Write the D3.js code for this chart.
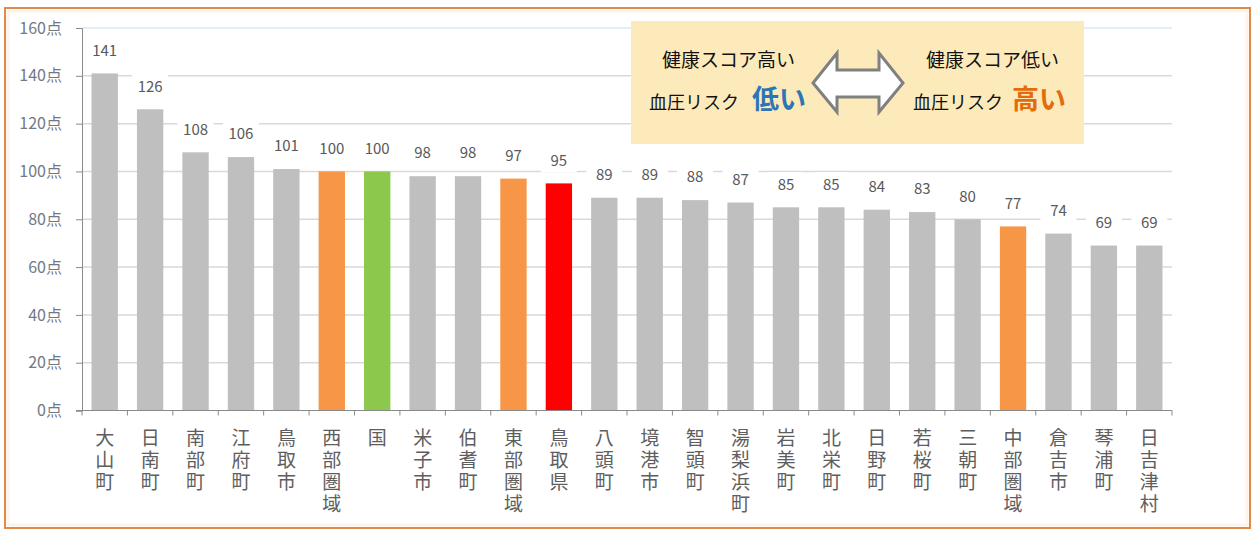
<!DOCTYPE html>
<html lang="ja">
<head>
<meta charset="utf-8">
<script src="https://cdn.jsdelivr.net/npm/d3@7"></script>
<style>
  html, body { margin: 0; padding: 0; background: #fff; }
  svg { display: block; }
  text { font-family: "Noto Sans CJK JP", "Noto Sans", sans-serif; }
</style>
</head>
<body>
<svg id="chart" width="1259" height="534"></svg>
<script>
// 血圧リスクの健康スコア（市町村・圏域別）
const categories = ["大山町","日南町","南部町","江府町","鳥取市","西部圏域","国","米子市","伯耆町","東部圏域","鳥取県","八頭町","境港市","智頭町","湯梨浜町","岩美町","北栄町","日野町","若桜町","三朝町","中部圏域","倉吉市","琴浦町","日吉津村"];
const scores = [141,126,108,106,101,100,100,98,98,97,95,89,89,88,87,85,85,84,83,80,77,74,69,69];
const yTicks = [0,20,40,60,80,100,120,140,160];
// 区分: 町村・市 / 圏域 / 国 / 県
const kinds = ["m","m","m","m","m","area","nation","m","m","area","pref","m","m","m","m","m","m","m","m","m","area","m","m","m"];
const kindColor = { m: "#bfbfbf", area: "#f79646", nation: "#8cc84b", pref: "#ff0000" };

const svg = d3.select("#chart");

// 外枠
svg.append("rect")
  .attr("x", 5).attr("y", 8).attr("width", 1245).attr("height", 520)
  .attr("fill", "#fff").attr("stroke", "#e08a4a").attr("stroke-width", 2);
svg.append("rect")
  .attr("x", 8).attr("y", 11).attr("width", 1239).attr("height", 514)
  .attr("fill", "none").attr("stroke", "#fdf3e8").attr("stroke-width", 3);

const x = d3.scaleBand().domain(categories).range([82, 1172])
  .paddingInner(0.42).paddingOuter(0.21);
const y = d3.scaleLinear().domain([0, 160]).range([410.5, 28]);

// 目盛線
svg.append("g").selectAll("line").data(yTicks.filter(d => d > 0)).join("line")
  .attr("x1", 82).attr("x2", 1172)
  .attr("y1", d => y(d)).attr("y2", d => y(d))
  .attr("stroke", d => d === 160 ? "#dde8f0" : "#d9d9d9").attr("stroke-width", 1.5);

// 棒
svg.append("g").selectAll("rect").data(categories).join("rect")
  .attr("x", d => x(d))
  .attr("y", (d, i) => y(scores[i]))
  .attr("width", x.bandwidth())
  .attr("height", (d, i) => y(0) - y(scores[i]))
  .attr("fill", (d, i) => kindColor[kinds[i]]);

// 値ラベル（背景付き）
const lab = svg.append("g").selectAll("g").data(categories).join("g")
  .attr("transform", (d, i) => `translate(${x(d) + x.bandwidth() / 2},${y(scores[i]) - 23})`);
lab.append("rect")
  .attr("x", -18).attr("y", -12).attr("width", 36).attr("height", 24)
  .attr("fill", "#fff");
lab.append("text")
  .attr("text-anchor", "middle").attr("dy", "0.35em")
  .attr("font-size", 15).attr("fill", "#595959")
  .text((d, i) => scores[i]);

// Y軸
const yAxis = d3.axisLeft(y).tickValues(yTicks).tickSize(6).tickPadding(14)
  .tickFormat(d => d + "点");
const gy = svg.append("g").attr("transform", "translate(82,0)").call(yAxis);
gy.select(".domain").attr("stroke", "#8a8a8a");
gy.selectAll(".tick line").attr("stroke", "#8a8a8a");
gy.selectAll(".tick text").attr("font-size", 16).attr("fill", "#707a86")
  .attr("font-family", "\"Noto Sans CJK JP\", sans-serif");

// X軸（区切り目盛）
const gx = svg.append("g").attr("transform", `translate(0,${y(0)})`);
gx.append("line").attr("x1", 76).attr("x2", 1172).attr("y1", 0).attr("y2", 0)
  .attr("stroke", "#8a8a8a");
const bounds = categories.map(c => x(c) - x.step() * x.paddingInner() / 2).concat([1172]);
gx.selectAll("line.tk").data(bounds).join("line").attr("class", "tk")
  .attr("x1", d => d).attr("x2", d => d).attr("y1", 0).attr("y2", 5)
  .attr("stroke", "#8a8a8a");

// 縦書きカテゴリ名
svg.append("g").selectAll("text").data(categories).join("text")
  .attr("x", d => x(d) + x.bandwidth() / 2)
  .attr("y", 428)
  .attr("writing-mode", "vertical-rl")
  .attr("text-orientation", "upright")
  .attr("letter-spacing", 3)
  .attr("font-size", 19).attr("fill", "#5e5e5e")
  .text(d => d);

// 凡例ボックス
const lg = svg.append("g");
lg.append("rect").attr("x", 631).attr("y", 21).attr("width", 453).attr("height", 123)
  .attr("fill", "#fdeabb");

lg.append("text").attr("x", 662).attr("y", 67).attr("font-size", 19).attr("fill", "#111")
  .text("健康スコア高い");
lg.append("text").attr("x", 649).attr("y", 109).attr("font-size", 18).attr("fill", "#111")
  .text("血圧リスク");
lg.append("text").attr("x", 752).attr("y", 109).attr("font-size", 27).attr("font-weight", "bold")
  .attr("fill", "#2e75b6").text("低い");

lg.append("text").attr("x", 926).attr("y", 67).attr("font-size", 19).attr("fill", "#111")
  .text("健康スコア低い");
lg.append("text").attr("x", 913).attr("y", 109).attr("font-size", 18).attr("fill", "#111")
  .text("血圧リスク");
lg.append("text").attr("x", 1012).attr("y", 109).attr("font-size", 27).attr("font-weight", "bold")
  .attr("fill", "#e36c0a").text("高い");

// 両方向矢印
const arrow = [[813,83],[837,53],[837,70],[879,70],[879,53],[903,83],[879,112],[879,97],[837,97],[837,112]];
lg.append("path")
  .attr("d", d3.line()(arrow) + "Z")
  .attr("fill", "#fff").attr("stroke", "#808080").attr("stroke-width", 3)
  .attr("stroke-linejoin", "miter");
</script>
</body>
</html>
